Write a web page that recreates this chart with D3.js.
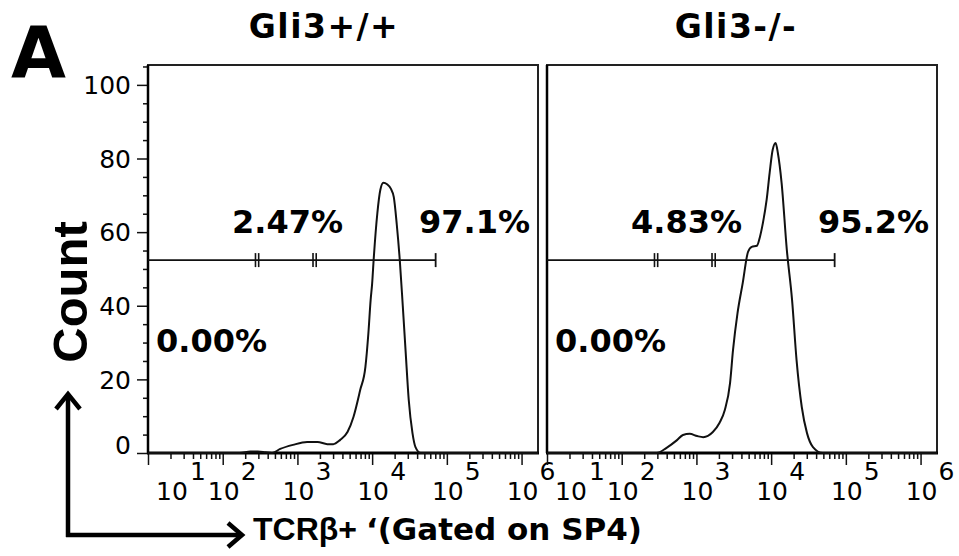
<!DOCTYPE html>
<html>
<head>
<meta charset="utf-8">
<script src="https://cdn.jsdelivr.net/npm/d3@7"></script>
<style>
body { margin: 0; background: #fff; }
svg { display: block; }
.tick-lbl { font-family: "DejaVu Sans", sans-serif; font-size: 25px; fill: #000; }
.pct { font-family: "DejaVu Sans", sans-serif; font-weight: bold; font-size: 32px; fill: #000; }
.title { font-family: "DejaVu Sans", sans-serif; font-weight: bold; font-size: 33px; letter-spacing: 1.5px; fill: #000; }
</style>
</head>
<body>
<div id="chart"></div>
<script>
// ---- data ----
var panelTitles = ["Gli3+/+", "Gli3-/-"];
var gatePcts = [["0.00%", "2.47%", "97.1%"], ["0.00%", "4.83%", "95.2%"]];
// gate boundaries, log10 of TCRb intensity
var gateBounds = [2.46, 3.23, 4.85];
var gateLevel = 52.4;
var decades = [1, 2, 3, 4, 5, 6];
var countTicks = [0, 20, 40, 60, 80, 100];

// Gli3+/+ histogram (log10 intensity, count)
var wtLog   = [1.0, 2.23, 2.37, 2.47, 2.57, 2.66, 2.77, 2.94, 3.13, 3.27, 3.40, 3.48, 3.57, 3.67, 3.75, 3.84, 3.91, 3.95, 3.98, 4.00, 4.02, 4.07, 4.11, 4.15, 4.20, 4.25, 4.29, 4.33, 4.37, 4.41, 4.45, 4.49, 4.54, 4.58, 4.65, 6.22];
var wtCount = [0, 0, 0.4, 0.4, 0.2, 0, 1.1, 2.2, 3.0, 3.0, 2.4, 2.4, 3.5, 5.7, 9.8, 17.1, 23.4, 32.6, 41.6, 46, 52.4, 65.2, 71.5, 73.4, 73.0, 71.8, 69.5, 62.0, 52.4, 40.0, 27.0, 14.4, 5.4, 1.6, 0, 0];

// Gli3-/- histogram
var koLog   = [1.0, 2.47, 2.60, 2.74, 2.82, 2.91, 3.01, 3.09, 3.22, 3.31, 3.38, 3.45, 3.49, 3.55, 3.62, 3.69, 3.74, 3.81, 3.85, 3.89, 3.94, 3.98, 4.02, 4.06, 4.09, 4.14, 4.21, 4.28, 4.34, 4.41, 4.48, 4.56, 4.69, 6.22];
var koCount = [0, 0, 1.4, 3.5, 4.9, 5.2, 4.6, 4.3, 5.7, 8.2, 11.7, 19.0, 28.0, 38.0, 46.2, 54.6, 56.0, 56.3, 58.7, 62.5, 68.8, 76.1, 82.3, 84.2, 81.5, 73.4, 55.2, 41.6, 25.3, 12.5, 5.4, 1.6, 0, 0];

// ---- layout ----
var svgWidth = 959, svgHeight = 556;
var panelLeft = [148, 547];
var panelTop = 65, panelW = 390, panelH = 388;
var titleX = [324, 736];
var pctDx = [9, 85, 272], pctY = [352, 233, 233];

var svg = d3.select("#chart").append("svg")
  .attr("width", svgWidth)
  .attr("height", svgHeight);

var x = d3.scaleLog().domain([10, Math.pow(10, 6.22)]).range([0, panelW]);
var y = d3.scaleLinear().domain([0, 105.4]).range([panelH, 0]);

var minorX = [];
decades.slice(0, -1).forEach(function(d) {
  for (var k = 2; k < 10; k++) minorX.push(k * Math.pow(10, d));
});
var minorY = d3.range(0, 106, 5).filter(function(v) { return v % 20 !== 0; });

var line = d3.line()
  .x(function(d) { return x(d[0]); })
  .y(function(d) { return y(d[1]); })
  .curve(d3.curveMonotoneX);

var series = [
  wtLog.map(function(v, i) { return [Math.pow(10, v), wtCount[i]]; }),
  koLog.map(function(v, i) { return [Math.pow(10, v), koCount[i]]; })
];

series.forEach(function(pts, p) {
  var g = svg.append("g")
    .attr("transform", "translate(" + panelLeft[p] + "," + panelTop + ")");

  // x ticks
  var xMajor = g.append("g")
    .attr("transform", "translate(0," + panelH + ")")
    .call(d3.axisBottom(x).tickValues(decades.map(function(d) { return Math.pow(10, d); }))
      .tickSize(12).tickFormat(""));
  var xMinor = g.append("g")
    .attr("transform", "translate(0," + panelH + ")")
    .call(d3.axisBottom(x).tickValues(minorX).tickSize(6).tickFormat(""));
  [xMajor, xMinor].forEach(function(a) {
    a.select(".domain").remove();
    a.selectAll("line").attr("stroke", "#111").attr("stroke-width", 1.5);
  });

  // x tick labels 10^n
  decades.forEach(function(d) {
    var tx = x(Math.pow(10, d));
    g.append("text").attr("class", "tick-lbl")
      .attr("x", tx + (d === 1 ? 24 : 1)).attr("y", panelH + 47)
      .attr("text-anchor", "middle").text("10");
    g.append("text").attr("class", "tick-lbl")
      .attr("x", tx + (d === 1 ? 42 : 18)).attr("y", panelH + 27)
      .text(d);
  });

  // y axis only on the first panel
  if (p === 0) {
    var yMajor = g.append("g")
      .call(d3.axisLeft(y).tickValues(countTicks).tickSize(11).tickPadding(6));
    var yMinor = g.append("g")
      .call(d3.axisLeft(y).tickValues(minorY).tickSize(5).tickFormat(""));
    [yMajor, yMinor].forEach(function(a) {
      a.select(".domain").remove();
      a.selectAll("line").attr("stroke", "#111").attr("stroke-width", 1.5);
    });
    yMajor.selectAll("text")
      .attr("class", "tick-lbl")
      .attr("font-size", null).attr("font-family", null)
      .attr("dy", function(d) { return d === 0 ? "0.02em" : "0.35em"; });
  }

  // frame
  g.append("rect")
    .attr("width", panelW).attr("height", panelH)
    .attr("fill", "none").attr("stroke", "#222").attr("stroke-width", 2);
  g.append("line")
    .attr("x1", -1).attr("x2", panelW + 1).attr("y1", panelH).attr("y2", panelH)
    .attr("stroke", "#000").attr("stroke-width", 3);
  g.append("line")
    .attr("x1", 0).attr("x2", 0).attr("y1", 0).attr("y2", panelH)
    .attr("stroke", "#000").attr("stroke-width", 2.5);

  // histogram
  g.append("path")
    .datum(pts)
    .attr("d", line)
    .attr("fill", "none")
    .attr("stroke", "#111")
    .attr("stroke-width", 2);

  // gate bar
  var gy = y(gateLevel);
  var gEnd = x(Math.pow(10, gateBounds[2]));
  g.append("line")
    .attr("x1", 0).attr("x2", gEnd).attr("y1", gy).attr("y2", gy)
    .attr("stroke", "#111").attr("stroke-width", 1.6);
  gateBounds.slice(0, 2).forEach(function(b) {
    var bx = x(Math.pow(10, b));
    [-1.6, 1.6].forEach(function(o) {
      g.append("line")
        .attr("x1", bx + o).attr("x2", bx + o).attr("y1", gy - 7).attr("y2", gy + 7)
        .attr("stroke", "#111").attr("stroke-width", 1.6);
    });
  });
  g.append("line")
    .attr("x1", gEnd).attr("x2", gEnd).attr("y1", gy - 7).attr("y2", gy + 7)
    .attr("stroke", "#111").attr("stroke-width", 1.8);

  // gate percentages
  gatePcts[p].forEach(function(t, i) {
    svg.append("text").attr("class", "pct")
      .attr("x", panelLeft[p] + pctDx[i] - 1).attr("y", pctY[i])
      .text(t);
  });

  // panel title
  svg.append("text").attr("class", "title")
    .attr("x", titleX[p]).attr("y", 38)
    .attr("text-anchor", "middle")
    .text(panelTitles[p]);
});

// panel letter
svg.append("text")
  .attr("x", 11).attr("y", 77)
  .style("font-family", "'DejaVu Sans', sans-serif")
  .style("font-weight", "bold").style("font-size", "71px")
  .text("A");

// y label
svg.append("text")
  .attr("transform", "translate(87,292) rotate(-90)")
  .attr("text-anchor", "middle")
  .style("font-family", "'Liberation Sans', Arial, sans-serif")
  .style("font-weight", "bold").style("font-size", "49px")
  .text("Count");

// x label
var xl = svg.append("text").attr("x", 253).attr("y", 540);
xl.append("tspan")
  .style("font-family", "'Liberation Sans', Arial, sans-serif")
  .style("font-weight", "bold").style("font-size", "32px")
  .text("TCRβ+ ");
xl.append("tspan")
  .style("font-family", "'DejaVu Sans', sans-serif")
  .style("font-weight", "bold").style("font-size", "31px")
  .text("‘(Gated on SP4)");

// corner arrows
var arrow = svg.append("g")
  .attr("fill", "none").attr("stroke", "#000").attr("stroke-width", 4.5);
arrow.append("path").attr("d", "M68,537 V394");
arrow.append("path").attr("d", "M56,409 L68,394 L80,409");
arrow.append("path").attr("d", "M66,535 H242");
arrow.append("path").attr("d", "M228,523 L242,535 L228,547");
</script>
</body>
</html>
